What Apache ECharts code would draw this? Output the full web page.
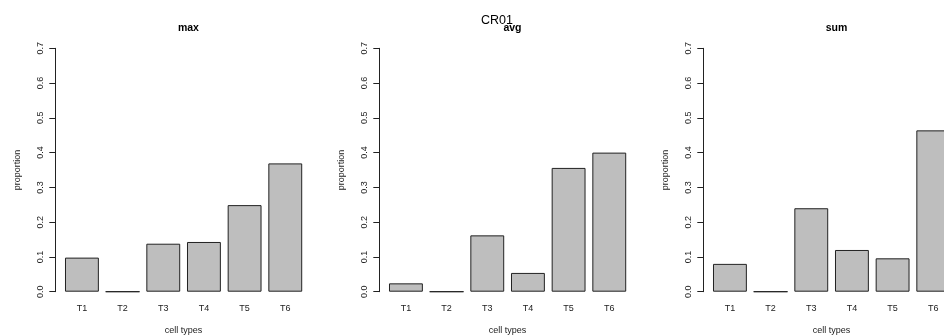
<!DOCTYPE html>
<html>
<head>
<meta charset="utf-8">
<script src="https://cdn.jsdelivr.net/npm/echarts@6/dist/echarts.min.js"></script>
<style>html,body{margin:0;padding:0;background:#fff;}#c{width:944px;height:336px;}</style>
</head>
<body>
<div id="c"></div>
<script>
const categories = ['T1','T2','T3','T4','T5','T6'];
const panelTitles = ['max','avg','sum'];
const maxValues = [0.098, 0, 0.138, 0.143, 0.249, 0.369];
const avgValues = [0.024, 0, 0.162, 0.054, 0.356, 0.400];
const sumValues = [0.080, 0, 0.240, 0.120, 0.096, 0.464];
const yTicks = [0, 0.1, 0.2, 0.3, 0.4, 0.5, 0.6, 0.7];
const mainTitle = 'CR01';
const yName = 'proportion';
const xName = 'cell types';

const panels = [maxValues, avgValues, sumValues];
const font = 'Liberation Sans, Arial, sans-serif';
const step = 324;
const bandLeft = 61.6;
const axisOffset = 6.3;
const plotW = 256.3;

const grids = [], xAxes = [], yAxes = [], series = [], titles = [];
titles.push({text: mainTitle, left: 492, top: 9, textAlign: 'center',
  textStyle: {fontFamily: font, fontSize: 12.5, fontWeight: 'normal', color: '#000'}});
panels.forEach((vals, k) => {
  const left = bandLeft + step * k;
  grids.push({left: left, width: 244, top: 48.3, height: 243.4, containLabel: false, outerBoundsMode: 'none'});
  titles.push({text: panelTitles[k], left: left - axisOffset + plotW / 2, top: 18, textAlign: 'center',
    textStyle: {fontFamily: font, fontSize: 10.5, fontWeight: 'bold', color: '#000'}});
  xAxes.push({type: 'category', gridIndex: k, data: categories, boundaryGap: true,
    axisLine: {show: false}, axisTick: {show: false}, splitLine: {show: false},
    axisLabel: {fontFamily: font, fontSize: 9, color: '#222', margin: 12, interval: 0},
    name: xName, nameLocation: 'middle', nameGap: 34,
    nameTextStyle: {fontFamily: font, fontSize: 9, color: '#222'}});
  yAxes.push({type: 'value', gridIndex: k, min: yTicks[0], max: yTicks[yTicks.length - 1], interval: 0.1,
    offset: axisOffset,
    axisLine: {show: true, lineStyle: {color: '#222', width: 1}},
    axisTick: {show: true, length: 6, inside: false, lineStyle: {color: '#222', width: 1}},
    splitLine: {show: false},
    axisLabel: {fontFamily: font, fontSize: 9, color: '#222', rotate: 90, margin: 10,
      formatter: v => v.toFixed(1)},
    name: yName, nameLocation: 'middle', nameGap: 33, nameRotate: 90,
    nameTextStyle: {fontFamily: font, fontSize: 9, color: '#222'}});
  series.push({type: 'bar', xAxisIndex: k, yAxisIndex: k, data: vals, barWidth: '83.3%',
    itemStyle: {color: '#bebebe', borderColor: '#222', borderWidth: 1},
    emphasis: {disabled: true}, silent: true, animation: false});
});

const chart = echarts.init(document.getElementById('c'), null, {renderer: 'canvas'});
chart.setOption({animation: false, backgroundColor: '#fff', title: titles,
  grid: grids, xAxis: xAxes, yAxis: yAxes, series: series});
</script>
</body>
</html>
